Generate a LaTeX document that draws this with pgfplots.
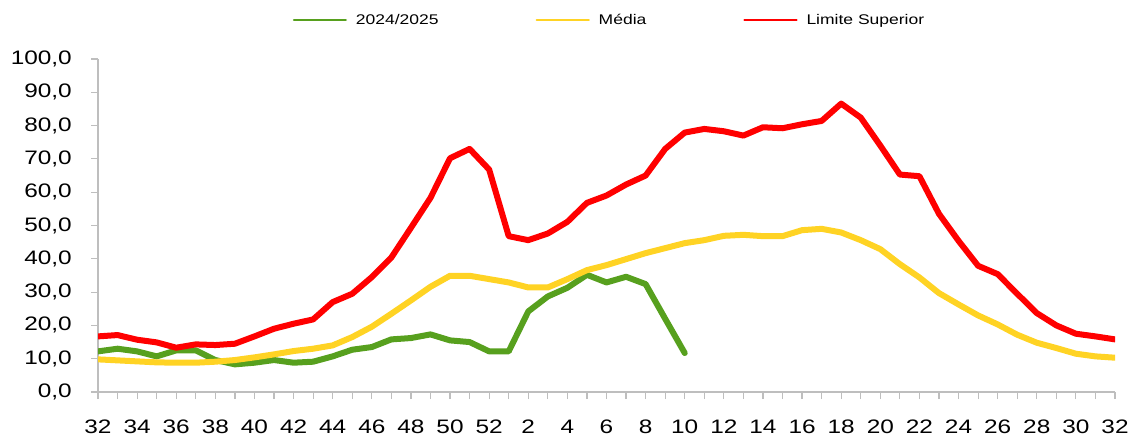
\documentclass[border=0pt]{standalone}
\usepackage{pgfplots}
\pgfplotsset{compat=1.18}
\usepackage{fontspec}
\setmainfont{Liberation Sans}[FakeStretch=1.25]
\definecolor{cgreen}{RGB}{87,160,30}
\definecolor{cyellow}{RGB}{255,211,36}
\definecolor{cred}{RGB}{255,0,0}
\definecolor{caxis}{RGB}{190,190,190}
\begin{document}
\begin{tikzpicture}
\begin{axis}[
  name=ax,
  scale only axis,
  width=1017pt, height=333pt,
  xmin=0, xmax=52, ymin=0, ymax=100,
  axis x line=bottom, axis y line=left,
  axis line style={-, draw=caxis, line width=1.3pt},
  tick align=outside,
  major tick length=7pt, minor tick length=7pt,
  tick style={draw=caxis, line width=1.2pt},
  xtick={0,2,...,52},
  minor xtick={1,3,...,51},
  xticklabels={32,34,36,38,40,42,44,46,48,50,52,2,4,6,8,10,12,14,16,18,20,22,24,26,28,30,32},
  ytick={0,10,...,100},
  /pgf/number format/.cd, fixed, fixed zerofill, precision=1, use comma, assume math mode=true,
  /pgfplots/.cd,
  ticklabel style={font=\fontsize{19.5}{22}\selectfont, inner sep=0pt},
  xticklabel style={anchor=north, yshift=-20.5pt},
  yticklabel style={anchor=east, xshift=-19pt},
  legend columns=3,
  legend style={draw=none, fill=none, font=\fontsize{14}{16}\selectfont,
    at={(0.5,1)}, anchor=center, yshift=39pt, xshift=3pt,
    /tikz/every even column/.append style={column sep=95pt}},
  legend image code/.code={\draw[#1, line width=2.2pt] (0pt,0pt) -- (52pt,0pt); \path (57pt,0pt);},
  every axis plot/.append style={line width=6pt, line join=round, line cap=round, mark=none},
]
\addplot[cgreen] coordinates {
(0,12.2)(1,13.0)(2,12.2)(3,10.7)(4,12.5)(5,12.5)(6,9.6)(7,8.3)(8,8.8)(9,9.6)
(10,8.8)(11,9.1)(12,10.7)(13,12.7)(14,13.5)(15,15.8)(16,16.2)(17,17.3)(18,15.5)(19,15.0)
(20,12.2)(21,12.2)(22,24.2)(23,28.7)(24,31.3)(25,35.2)(26,32.9)(27,34.6)(28,32.4)(29,22.0)
(30,11.7)};
\addlegendentry{2024/2025}
\addplot[cyellow] coordinates {
(0,9.8)(1,9.5)(2,9.2)(3,8.9)(4,8.8)(5,8.8)(6,9.1)(7,9.6)(8,10.4)(9,11.3)
(10,12.3)(11,13.0)(12,14.0)(13,16.5)(14,19.6)(15,23.5)(16,27.5)(17,31.6)(18,34.9)(19,34.9)
(20,33.9)(21,32.9)(22,31.4)(23,31.4)(24,33.9)(25,36.6)(26,38.1)(27,39.9)(28,41.7)(29,43.2)
(30,44.7)(31,45.6)(32,46.9)(33,47.2)(34,46.8)(35,46.8)(36,48.6)(37,49.0)(38,47.9)(39,45.6)
(40,42.9)(41,38.4)(42,34.4)(43,29.7)(44,26.3)(45,23.0)(46,20.3)(47,17.2)(48,14.8)(49,13.2)
(50,11.5)(51,10.7)(52,10.3)};
\addlegendentry{Média}
\addplot[cred] coordinates {
(0,16.7)(1,17.1)(2,15.7)(3,14.9)(4,13.3)(5,14.3)(6,14.1)(7,14.5)(8,16.7)(9,19.0)
(10,20.5)(11,21.8)(12,27.0)(13,29.5)(14,34.5)(15,40.4)(16,49.3)(17,58.3)(18,70.2)(19,73.0)
(20,66.8)(21,46.8)(22,45.6)(23,47.6)(24,51.1)(25,56.8)(26,59.0)(27,62.3)(28,65.0)(29,73.0)
(30,77.9)(31,79.0)(32,78.3)(33,77.0)(34,79.5)(35,79.2)(36,80.4)(37,81.4)(38,86.6)(39,82.4)
(40,74.0)(41,65.3)(42,64.8)(43,53.5)(44,45.4)(45,37.9)(46,35.4)(47,29.5)(48,23.7)(49,20.0)
(50,17.5)(51,16.7)(52,15.8)};
\addlegendentry{Limite Superior}
\end{axis}
\pgfresetboundingbox
\path[use as bounding box] ([shift={(-98pt,-46pt)}]ax.south west) rectangle ([shift={(22pt,59pt)}]ax.north east);
\end{tikzpicture}
\end{document}
